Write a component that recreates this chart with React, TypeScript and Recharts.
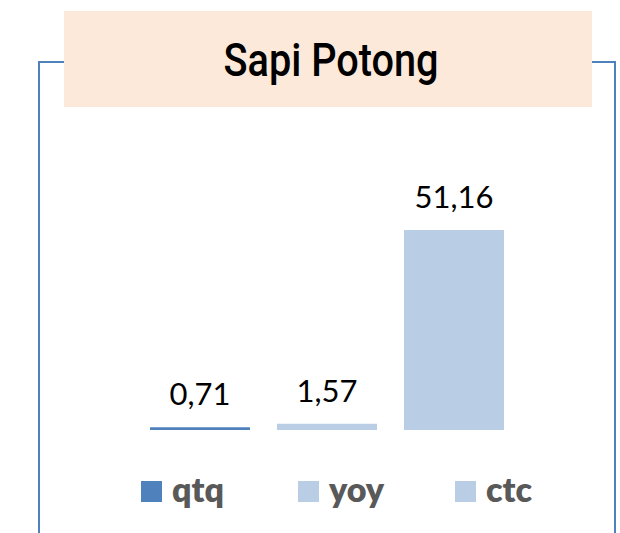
import React from "react";
import { BarChart, Bar, XAxis, YAxis, Legend, LabelList } from "recharts";

const categories = ["Sapi Potong"];
const seriesNames = ["qtq", "yoy", "ctc"];
const qtqValues = [0.71];
const yoyValues = [1.57];
const ctcValues = [51.16];
const colors = ["#4f81bd", "#b9cde5", "#b9cde5"];
const title = "Sapi Potong";

const data = categories.map((c, i) => ({
  name: c,
  qtq: qtqValues[i],
  yoy: yoyValues[i],
  ctc: ctcValues[i],
}));

const fmt = (v: any) => Number(v).toFixed(2).replace(".", ",");

const LegendContent = (props: any) => {
  const payload = [...(props.payload || [])].sort(
    (a: any, b: any) => seriesNames.indexOf(a.value) - seriesNames.indexOf(b.value)
  );
  return (
    <div style={{ display: "flex", alignItems: "baseline" }}>
      {payload.map((p: any) => (
        <div key={p.value} style={{ display: "flex", alignItems: "baseline", width: 157 }}>
          <div style={{ width: 21, height: 21, background: p.color, marginRight: 10 }} />
          <span
            style={{
              fontFamily: "Lato, 'Open Sans', sans-serif",
              fontWeight: 800,
              fontSize: 34,
              color: "#595959",
              lineHeight: "34px",
            }}
          >
            {p.value}
          </span>
        </div>
      ))}
    </div>
  );
};

export default function App() {
  return (
    <div style={{ position: "absolute", left: 0, top: 0, width: 620, height: 533, overflow: "hidden", background: "#fff" }}>
      <div
        style={{
          position: "absolute",
          left: 38,
          top: 61,
          width: 574,
          height: 600,
          borderLeft: "2px solid #4f81bd",
          borderRight: "2px solid #4f81bd",
          borderTop: "2px solid #4f81bd",
        }}
      />
      <div
        style={{
          position: "absolute",
          left: 64,
          top: 11,
          width: 528,
          height: 96,
          background: "#fde9d9",
        }}
      >
        <svg width={528} height={96} style={{ display: "block" }}>
          <text
            x={267}
            y={65}
            textAnchor="middle"
            textLength={215}
            lengthAdjust="spacingAndGlyphs"
            style={{ fontFamily: "Roboto, 'Liberation Sans', sans-serif", fontWeight: 500, fontSize: 46, fill: "#000" }}
          >
            {title}
          </text>
        </svg>
      </div>
      <div style={{ position: "absolute", left: 0, top: 0 }}>
        <BarChart
          width={620}
          height={533}
          data={data}
          margin={{ top: 195.5, right: 6, bottom: 103, left: 40 }}
          barGap={27}
          barCategoryGap={0}
        >
          <XAxis dataKey="name" hide />
          <YAxis hide domain={[0, 60]} />
          <Legend
            verticalAlign="middle"
            content={<LegendContent />}
            wrapperStyle={{ position: "absolute", left: 141, top: 472, width: 479, bottom: "auto" }}
          />
          {seriesNames.map((s, i) => (
            <Bar key={s} dataKey={s} name={s} fill={colors[i]} barSize={100} isAnimationActive={false}>
              <LabelList
                dataKey={s}
                position="top"
                offset={22}
                formatter={fmt}
                style={{ fontFamily: "Lato, 'Open Sans', sans-serif", fontSize: 31, fill: "#000" }}
              />
            </Bar>
          ))}
        </BarChart>
      </div>
    </div>
  );
}
